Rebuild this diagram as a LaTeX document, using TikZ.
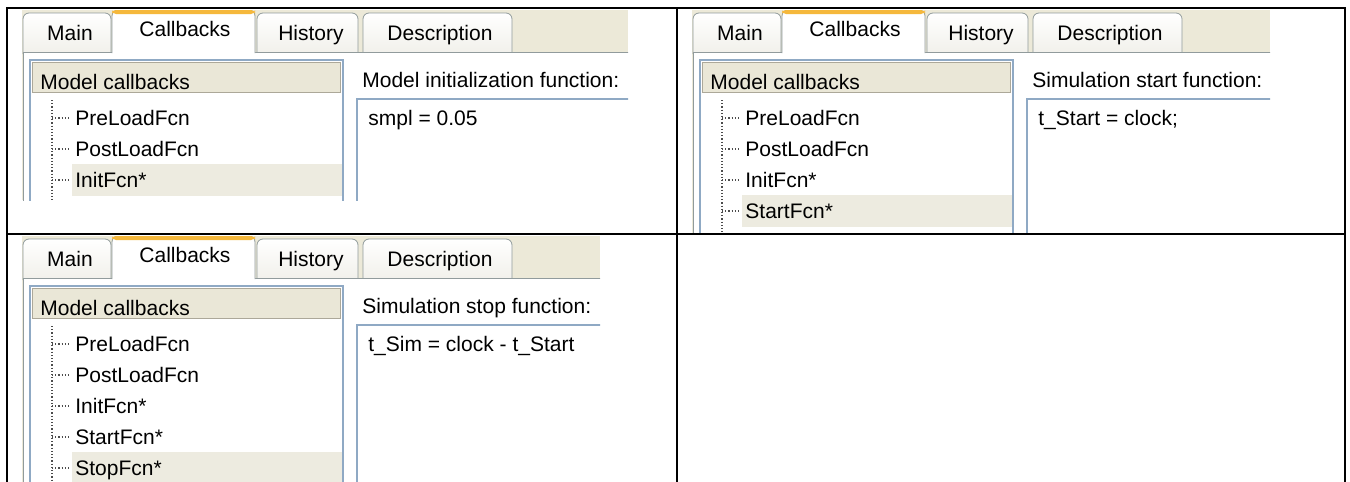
\documentclass[tikz,border=0pt]{standalone}
\usepackage{fontspec}
\setmainfont{Liberation Sans}
\definecolor{rowbeige}{HTML}{ECE9D8}
\definecolor{headbeige}{HTML}{EAE7D7}
\definecolor{headedge}{HTML}{ACA899}
\definecolor{selbeige}{HTML}{EDEBE0}
\definecolor{tabgray}{HTML}{919B9C}
\definecolor{tabface}{HTML}{F1F0EA}
\definecolor{taborange}{HTML}{F5B83C}
\definecolor{boxblue}{HTML}{8FA9C4}
\begin{document}
\begin{tikzpicture}
  [x=0.5pt, y=-0.5pt,
  lbl/.style={anchor=base west, inner sep=0pt, font=\fontsize{10.5}{12}\selectfont},
  tablbl/.style={anchor=base, inner sep=0pt, font=\fontsize{10.5}{12}\selectfont},
  tabbox/.style={draw=tabgray, top color=white, bottom color=tabface, rounded corners=3},
  boxline/.style={draw=boxblue, fill=white, line width=0.8pt},
  treeline/.style={densely dotted, line width=0.6pt, color=black!70},
  cell/.style={line width=1pt}]
  \useasboundingbox [fill=white] (0,0) rectangle (1350,482);
  %Screenshots
  \foreach \ox/\oy/\w/\h/\n/\title/\code [count=\p] in
    {22/10/606/190/3/{Model initialization function:}/{smpl = 0.05},
     692/10/578/224/4/{Simulation start function:}/{t\_Start = clock;},
     22/236/578/246/5/{Simulation stop function:}/{t\_Sim = clock - t\_Start}}
  {
    \begin{scope}[shift={(\ox,\oy)}]
      \clip (0,0) rectangle (\w,\h);
      \fill [rowbeige] (0,0) rectangle (\w,\h);
      %Tabs
      \draw [tabbox] (1,44) |- (89,3) -- (89,44);
      \draw [tabbox] (235,44) |- (336,3) -- (336,44);
      \draw [tabbox] (341,44) |- (490,3) -- (490,44);
      \fill [white] (1,42) rectangle (\w+2,\h+2);
      \draw [tabgray] (1,\h+2) -- (1,42) -- (90,42);
      \draw [tabgray] (233,42) -- (\w+2,42);
      \draw [tabgray, fill=white, rounded corners=3] (90,43) |- (233,0) -- (233,43);
      \fill [taborange, rounded corners=2] (90,4) |- (233,0) -- (233,4) -- cycle;
      \node [tablbl] (main\p) at (48,30.5) {Main};
      \node [tablbl] (cb\p) at (163,26.5) {Callbacks};
      \node [tablbl] (hist\p) at (289,30.5) {History};
      \node [tablbl] (desc\p) at (418,30.5) {Description};
      %Baum
      \draw [boxline] (8,50) rectangle (321,\h+10);
      \draw [draw=headedge, fill=headbeige] (10,52) rectangle (318,82);
      \node [lbl] (head\p) at (18,79.5) {Model callbacks};
      \draw [treeline] (30,90) -- (30,\h+10);
      \foreach \lab [count=\k] in {PreLoadFcn,PostLoadFcn,InitFcn*,StartFcn*,StopFcn*}
      {
        \ifnum\k>\n\else
          \pgfmathsetmacro\yy{108+31*(\k-1)}
          \ifnum\k=\n
            \fill [selbeige] (50,\yy-16) rectangle (320,\yy+16);
          \fi
          \draw [treeline] (30,\yy) -- (47,\yy);
          \node [lbl] (item\p-\k) at (53,\yy+7.5) {\lab};
        \fi
      }
      %Funktion
      \node [lbl] (title\p) at (340,77.5) {\title};
      \draw [boxline] (335,89) rectangle (\w+10,\h+10);
      \node [lbl] (code\p) at (346,115.5) {\code};
    \end{scope}
  }
  %Tabelle
  \draw [cell] (7,482) -- (7,8) -- (1345,8) -- (1345,482);
  \draw [cell] (677,8) -- (677,482);
  \draw [cell] (7,234) -- (1345,234);
\end{tikzpicture}
\end{document}
